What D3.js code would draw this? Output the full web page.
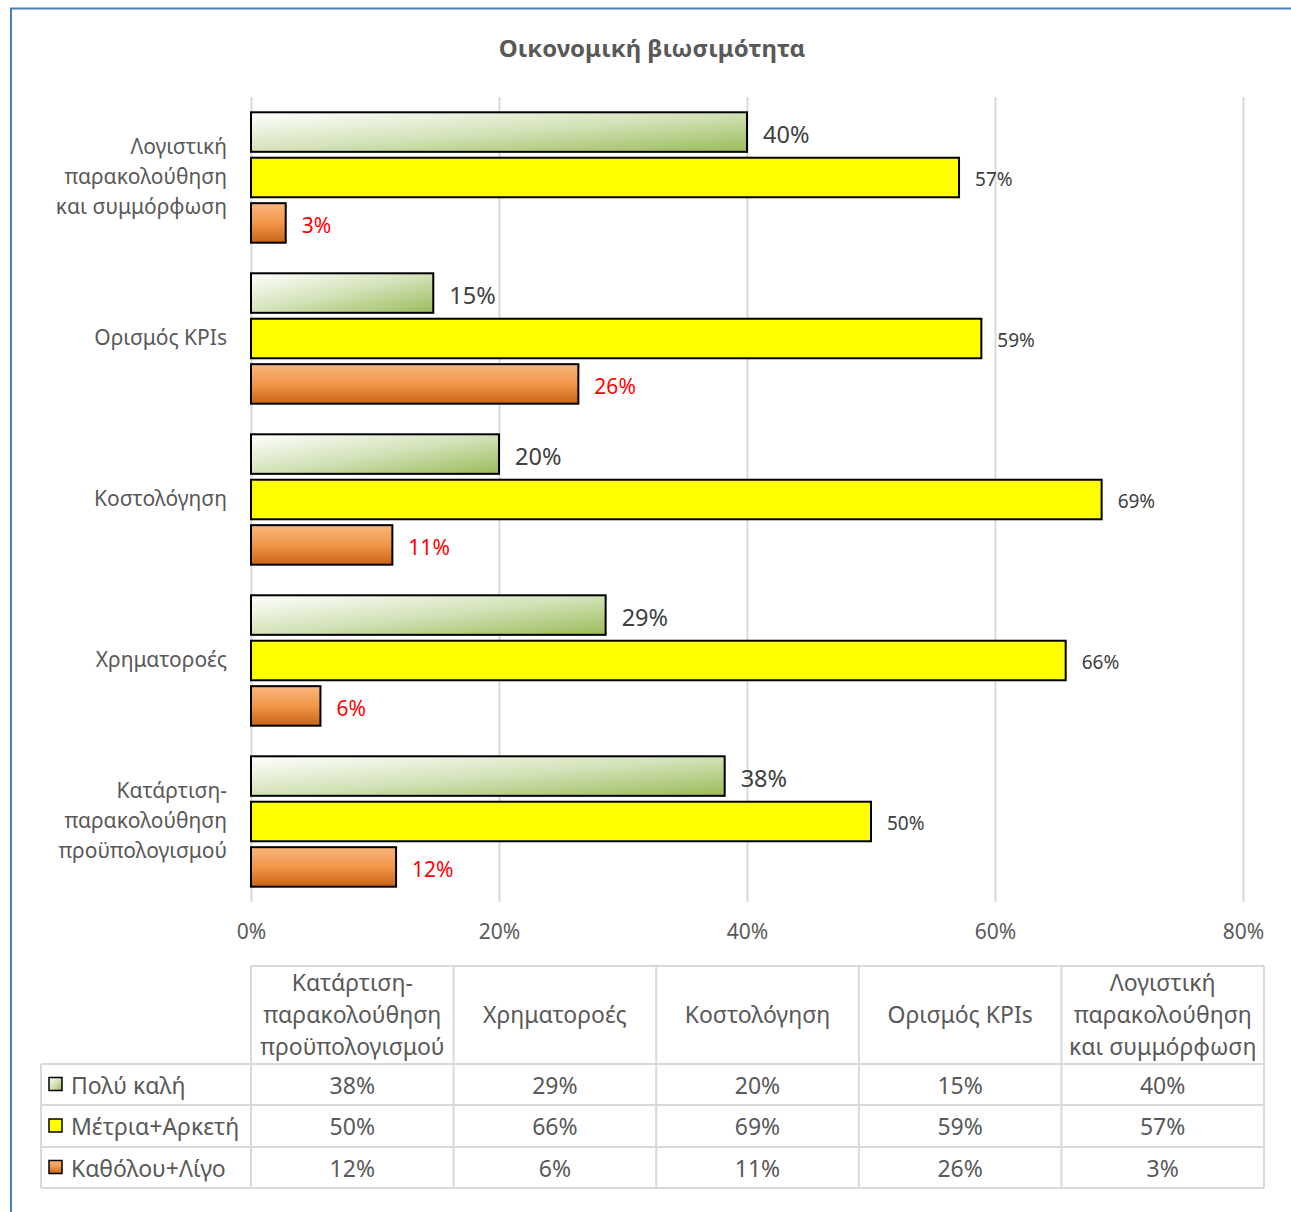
<!DOCTYPE html>
<html lang="el">
<head>
  <meta charset="UTF-8">
  <title>Οικονομική βιωσιμότητα</title>
  <style>
    body { margin: 0; background: #fff; }
    text { font-family: 'Noto Sans', 'Open Sans', sans-serif; }
  </style>
</head>
<body>
  <svg id="svg" width="1291" height="1212"></svg>
  <script src="https://d3js.org/d3.v7.min.js"></script>
  <script>
    // data, in table order (the chart draws them bottom to top)
    const categories = [
      'Κατάρτιση-\nπαρακολούθηση\nπροϋπολογισμού',
      'Χρηματοροές',
      'Κοστολόγηση',
      'Ορισμός KPIs',
      'Λογιστική\nπαρακολούθηση\nκαι συμμόρφωση'
    ]
    const series = ['Πολύ καλή', 'Μέτρια+Αρκετή', 'Καθόλου+Λίγο']
    // percentages (labels show them rounded)
    const polyKali = [38.2, 28.6, 20, 14.7, 40]
    const metria = [50, 65.7, 68.6, 58.9, 57.1]
    const katholou = [11.7, 5.6, 11.4, 26.4, 2.8]
    const xTicks = [0, 20, 40, 60, 80]

    const values = [polyKali, metria, katholou]
    const rows = categories.map((c, i) => ({ cat: c, vals: series.map((s, j) => ({ s, v: values[j][i] })) }))
    const pct = v => Math.round(v) + '%'

    const svg = d3.select('#svg')
    const grey = '#595959'

    // frame
    svg.append('path')
      .attr('d', 'M11,1212 L11,8.5 L1291,8.5')
      .attr('fill', 'none')
      .attr('stroke', '#4a7ebb')
      .attr('stroke-width', 2)

    // gradients
    const defs = svg.append('defs')
    const g1 = defs.append('linearGradient').attr('id', 'green')
      .attr('x1', 0).attr('y1', 0).attr('x2', 1).attr('y2', 1)
    g1.append('stop').attr('offset', 0).attr('stop-color', '#ffffff')
    g1.append('stop').attr('offset', 0.5).attr('stop-color', '#d3e2b8')
    g1.append('stop').attr('offset', 1).attr('stop-color', '#9bbb59')
    const g3 = defs.append('linearGradient').attr('id', 'orange')
      .attr('x1', 0).attr('y1', 0).attr('x2', 0).attr('y2', 1)
    g3.append('stop').attr('offset', 0).attr('stop-color', '#f8b67e')
    g3.append('stop').attr('offset', 0.5).attr('stop-color', '#f2964a')
    g3.append('stop').attr('offset', 1).attr('stop-color', '#c86316')

    const fillScale = d3.scaleOrdinal()
      .domain(series)
      .range(['url(#green)', '#ffff00', 'url(#orange)'])

    // title
    svg.append('text')
      .attr('x', 652).attr('y', 47)
      .attr('text-anchor', 'middle')
      .attr('dominant-baseline', 'central')
      .attr('font-size', 24)
      .attr('font-weight', 'bold')
      .attr('fill', grey)
      .text('Οικονομική βιωσιμότητα')

    const xScale = d3.scaleLinear().domain([0, 80]).range([251, 1243])
    const yScale = d3.scaleBand()
      .domain(categories.slice().reverse())
      .range([97, 902])
      .paddingInner(0.19)
      .paddingOuter(0.095)
    const subScale = d3.scaleBand()
      .domain(series)
      .range([0, yScale.bandwidth()])
      .paddingInner(0.13)

    // gridlines
    svg.append('g')
      .attr('transform', 'translate(0, 902)')
      .call(d3.axisBottom(xScale).tickValues(xTicks).tickSize(-805).tickFormat(''))
      .call(g => g.select('.domain').remove())
      .call(g => g.selectAll('line').attr('stroke', '#d9d9d9').attr('stroke-width', 2))

    // x labels
    svg.append('g')
      .attr('transform', 'translate(0, 921)')
      .call(d3.axisBottom(xScale).tickValues(xTicks).tickSize(0).tickFormat(d => d + '%'))
      .call(g => g.select('.domain').remove())
      .call(g => g.selectAll('text')
        .attr('font-family', "'Noto Sans', sans-serif")
        .attr('font-size', 21).attr('fill', grey))

    // y labels
    const yAxis = svg.append('g')
      .attr('transform', 'translate(227, 0)')
      .call(d3.axisLeft(yScale).tickSize(0).tickPadding(0))
      .call(g => g.select('.domain').remove())
    yAxis.selectAll('text')
      .attr('font-family', "'Noto Sans', sans-serif")
      .attr('font-size', 21).attr('fill', grey)
      .attr('dy', null)
      .each(function (d) {
        const lines = d.split('\n')
        const t = d3.select(this).text('')
        lines.forEach((l, i) => {
          t.append('tspan')
            .attr('x', 0)
            .attr('dy', i === 0 ? (0.32 - (lines.length - 1) * 30 / 21 / 2) + 'em' : '30px')
            .text(l)
        })
      })

    // bars
    const groups = svg.append('g').selectAll('g')
      .data(rows)
      .enter()
      .append('g')
      .attr('transform', d => `translate(0, ${yScale(d.cat)})`)

    groups.selectAll('rect')
      .data(d => d.vals)
      .enter()
      .append('rect')
      .attr('x', xScale(0))
      .attr('y', d => subScale(d.s))
      .attr('width', d => xScale(d.v) - xScale(0))
      .attr('height', subScale.bandwidth())
      .attr('fill', d => fillScale(d.s))
      .attr('stroke', '#000')
      .attr('stroke-width', 2)

    const labelSize = d3.scaleOrdinal().domain(series).range([23.5, 19, 21])
    const labelColor = d3.scaleOrdinal().domain(series).range(['#404040', '#404040', '#ff0000'])
    groups.selectAll('text')
      .data(d => d.vals)
      .enter()
      .append('text')
      .attr('x', d => xScale(d.v) + 16)
      .attr('y', d => subScale(d.s) + subScale.bandwidth() / 2 + 2)
      .attr('dominant-baseline', 'central')
      .attr('font-size', d => labelSize(d.s))
      .attr('fill', d => labelColor(d.s))
      .text(d => pct(d.v))

    // data table
    const colScale = d3.scaleBand().domain(categories).range([251, 1264])
    const rowTop = [966, 1064, 1105, 1147, 1188]
    const lineColor = '#d9d9d9'
    const table = svg.append('g')
    // horizontal lines
    rowTop.forEach((y, i) => {
      table.append('line')
        .attr('x1', i === 0 ? 251 : 41).attr('x2', 1264)
        .attr('y1', y).attr('y2', y)
        .attr('stroke', lineColor).attr('stroke-width', 2)
    })
    // vertical lines
    const colEdges = categories.map(c => colScale(c)).concat([1264])
    colEdges.forEach(x => {
      table.append('line')
        .attr('x1', x).attr('x2', x)
        .attr('y1', 966).attr('y2', 1188)
        .attr('stroke', lineColor).attr('stroke-width', 2)
    })
    table.append('line')
      .attr('x1', 41).attr('x2', 41)
      .attr('y1', 1064).attr('y2', 1188)
      .attr('stroke', lineColor).attr('stroke-width', 2)

    // header
    categories.forEach(c => {
      const lines = c.split('\n')
      const t = table.append('text')
        .attr('text-anchor', 'middle')
        .attr('font-size', 23)
        .attr('fill', grey)
      lines.forEach((l, i) => {
        t.append('tspan')
          .attr('x', colScale(c) + colScale.bandwidth() / 2)
          .attr('y', 1015 + (i - (lines.length - 1) / 2) * 32)
          .attr('dy', '0.35em')
          .text(l)
      })
    })

    // rows
    series.forEach((s, j) => {
      const yc = (rowTop[j + 1] + rowTop[j + 2]) / 2
      table.append('rect')
        .attr('x', 49).attr('y', yc - 7)
        .attr('width', 13).attr('height', 13)
        .attr('fill', fillScale(s))
        .attr('stroke', '#000').attr('stroke-width', 1.5)
      table.append('text')
        .attr('x', 71).attr('y', yc)
        .attr('dominant-baseline', 'central')
        .attr('font-size', 23)
        .attr('fill', grey)
        .text(s)
      categories.forEach((c, i) => {
        table.append('text')
          .attr('x', colScale(c) + colScale.bandwidth() / 2)
          .attr('y', yc)
          .attr('text-anchor', 'middle')
          .attr('dominant-baseline', 'central')
          .attr('font-size', 23)
          .attr('fill', grey)
          .text(pct(values[j][i]))
      })
    })
  </script>
</body>
</html>
